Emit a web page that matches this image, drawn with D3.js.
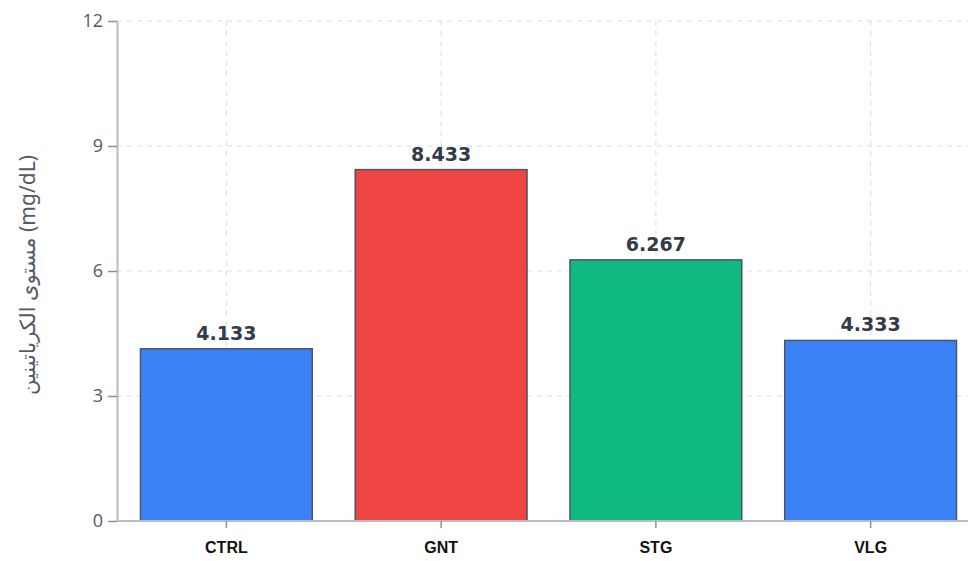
<!DOCTYPE html>
<html>
<head>
<meta charset="utf-8">
<script src="https://cdn.jsdelivr.net/npm/d3@7/dist/d3.min.js"></script>
<style>
  html, body { margin: 0; padding: 0; background: #fff; }
  svg { display: block; }
</style>
</head>
<body>
<svg id="chart" width="968" height="561"></svg>
<script>
// Creatinine level per group
const groups = ["CTRL", "GNT", "STG", "VLG"];
const creatinine = [4.133, 8.433, 6.267, 4.333];
const barColors = ["#3b82f6", "#ef4444", "#10b981", "#3b82f6"];
const yTicks = [0, 3, 6, 9, 12];
const yTitle = "مستوى الكرياتينين (mg/dL)";

const svg = d3.select("#chart");
const margin = { left: 117, top: 21, bottom: 521 };

const x = d3.scaleBand()
  .domain(groups)
  .range([119, 978])
  .paddingInner(0.2)
  .paddingOuter(0.1);

const y = d3.scaleLinear()
  .domain([0, 12])
  .range([margin.bottom, margin.top]);

// dashed grid
const grid = svg.append("g");
grid.selectAll("line.h").data(yTicks).join("line")
  .attr("x1", margin.left).attr("x2", 968)
  .attr("y1", d => y(d)).attr("y2", d => y(d))
  .attr("stroke", "#dcdde3").attr("stroke-width", 1)
  .attr("stroke-dasharray", "5,5");
grid.selectAll("line.v").data(groups).join("line")
  .attr("x1", d => x(d) + x.bandwidth() / 2).attr("x2", d => x(d) + x.bandwidth() / 2)
  .attr("y1", margin.top).attr("y2", margin.bottom)
  .attr("stroke", "#dcdde3").attr("stroke-width", 1)
  .attr("stroke-dasharray", "5,5");

// bars
svg.append("g").selectAll("rect").data(groups).join("rect")
  .attr("x", d => x(d))
  .attr("width", x.bandwidth())
  .attr("y", (d, i) => y(creatinine[i]))
  .attr("height", (d, i) => y(0) - y(creatinine[i]))
  .attr("fill", (d, i) => barColors[i])
  .attr("stroke", "#4b5563")
  .attr("stroke-width", 1.5);

// value labels
svg.append("g").selectAll("text").data(groups).join("text")
  .attr("x", d => x(d) + x.bandwidth() / 2)
  .attr("y", (d, i) => y(creatinine[i]) - 9)
  .attr("text-anchor", "middle")
  .attr("font-family", "'DejaVu Sans', sans-serif")
  .attr("font-weight", "bold")
  .attr("font-size", "19px")
  .attr("fill", "#333a48")
  .text((d, i) => creatinine[i].toFixed(3));

// y axis
const yAxis = svg.append("g")
  .attr("transform", `translate(${margin.left},0)`)
  .call(d3.axisLeft(y).tickValues(yTicks).tickFormat(d3.format("d")).tickSize(9).tickPadding(5).tickSizeOuter(0));
yAxis.select(".domain").attr("stroke", "#b8bcc4").attr("stroke-width", 2);
yAxis.selectAll(".tick line").attr("stroke", "#8a8f98").attr("stroke-width", 1.5);
yAxis.selectAll(".tick text")
  .attr("font-family", "'Open Sans', sans-serif")
  .attr("font-size", "18px")
  .attr("fill", "#555a66");

// x axis
const xAxis = svg.append("g")
  .attr("transform", `translate(0,${margin.bottom})`)
  .call(d3.axisBottom(x).tickSize(7).tickPadding(14).tickSizeOuter(0));
xAxis.select(".domain").remove();
xAxis.insert("line", ":first-child")
  .attr("x1", margin.left).attr("x2", 968)
  .attr("y1", 0).attr("y2", 0)
  .attr("stroke", "#b8bcc4").attr("stroke-width", 2);
xAxis.selectAll(".tick line").attr("stroke", "#8a8f98").attr("stroke-width", 1.5);
xAxis.selectAll(".tick text")
  .attr("font-family", "'Liberation Sans', Arial, sans-serif")
  .attr("font-weight", "bold")
  .attr("font-size", "16px")
  .attr("fill", "#111");

// y axis title
svg.append("text")
  .attr("transform", `translate(35,${(margin.top + margin.bottom) / 2 + 4}) rotate(-90)`)
  .attr("text-anchor", "middle")
  .attr("font-family", "'Noto Sans', 'DejaVu Sans', sans-serif")
  .attr("font-size", "21px")
  .attr("fill", "#555a66")
  .text(yTitle);
</script>
</body>
</html>
